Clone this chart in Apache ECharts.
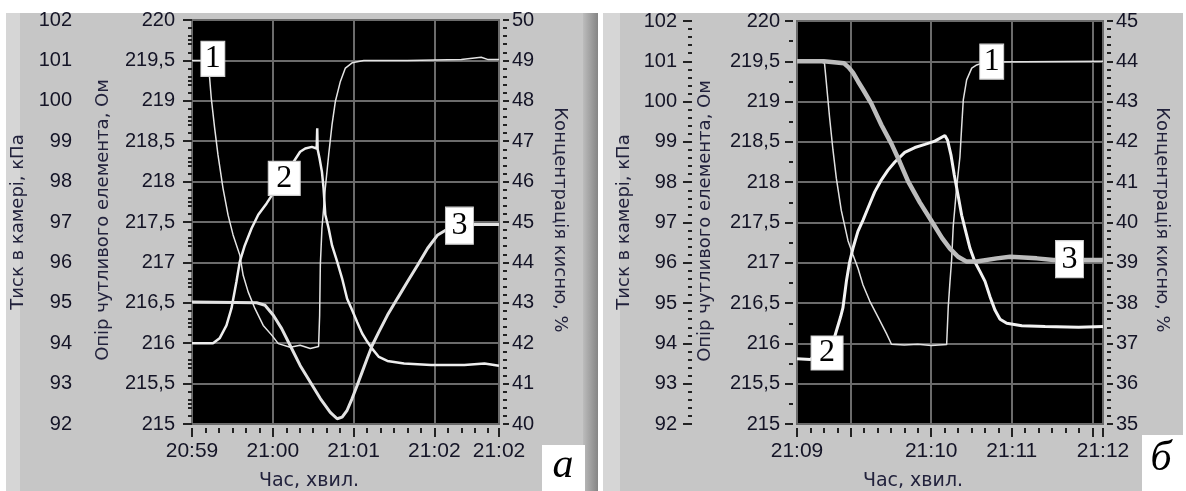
<!DOCTYPE html>
<html>
<head>
<meta charset="utf-8">
<script src="https://cdn.jsdelivr.net/npm/echarts@6/dist/echarts.min.js"></script>
<style>
  html, body { margin: 0; padding: 0; background: #fff; }
  #chart { width: 1186px; height: 491px; }
</style>
</head>
<body>
<div id="chart"></div>
<script>
// time origins (seconds of day) and visible time spans, seconds from origin
const aBase = 20 * 3600 + 59 * 60;        // 20:59:00
const bBase = 21 * 3600 + 8 * 60 + 40;    // 21:08:40
const aSpan = [0, 228];
const bSpan = [20, 248];

// panel а
const a1Time = [0, 10, 13, 14.3, 16.8, 19.3, 23.0, 26.8, 30.5, 35.5, 38.0, 41.7, 46.7, 52.9, 59.2, 64.1, 72.9, 80.3, 87.8, 94.0,
  94.8, 95.3, 96.5, 99.0, 101.5, 104.0, 106.5, 110.2, 113.9, 118.9, 127.6, 160, 200, 214.8, 220, 228];
const a1Oxygen = [49.0, 49.0, 48.6, 48.07, 47.33, 46.66, 45.84, 45.17, 44.68, 44.18, 43.68, 43.27, 42.86, 42.44, 42.2, 41.99, 41.9, 41.95, 41.87, 41.92,
  42.69, 43.93, 44.84, 45.84, 46.66, 47.41, 47.99, 48.48, 48.81, 48.94, 49.0, 49.0, 49.02, 49.08, 49.02, 49.02];
const a2Time = [0, 15.6, 20.5, 25.6, 29.3, 33.0, 35.5, 39.2, 44.2, 49.2, 55.4, 80.3, 84.1, 89.0, 92.6, 93.0, 93.3, 94.7, 96.5, 97.7,
  99.0, 101.5, 104.0, 107.8, 111.5, 115.2, 118.9, 122.7, 126.4, 130.1, 133.9, 138.8, 145.1, 157.5, 177.5, 202.3, 217.2, 228];
const a2Resist = [216.0, 216.0, 216.06, 216.22, 216.43, 216.76, 217.01, 217.21, 217.42, 217.59, 217.73, 218.37, 218.41, 218.43, 218.41, 218.66, 218.40, 218.29, 218.12, 217.92,
  217.59, 217.42, 217.21, 217.01, 216.8, 216.55, 216.41, 216.26, 216.12, 216.02, 215.93, 215.83, 215.78, 215.75, 215.73, 215.73, 215.75, 215.72];
const a3Time = [0, 48, 54.2, 60.4, 66.6, 72.8, 80.3, 87.8, 95.3, 102.7, 107.8, 111.5, 115.2, 118.9, 122.7, 126.4, 130.1, 133.9, 138.8, 145.1,
  152.6, 160, 167.5, 175, 182.5, 188.6, 209.8, 228];
const a3Pressure = [95.02, 95.0, 94.94, 94.69, 94.36, 93.95, 93.45, 93.04, 92.63, 92.29, 92.13, 92.17, 92.34, 92.63, 92.96, 93.29, 93.62, 93.95, 94.28, 94.69,
  95.11, 95.52, 95.93, 96.35, 96.68, 96.8, 96.94, 96.94];
const aTagTime = [15.5, 68.5, 198.6];
const aTagValue = [49.04, 218.04, 96.91];

// panel б
const b1Time = [20, 38, 40.5, 41.5, 44.3, 46.8, 49.3, 53.0, 58.0, 61.7, 65.5, 69.2, 74.2, 80.4, 86.6, 90.4, 100, 110, 120, 131.5,
  132.7, 133.9, 135.2, 136.4, 139.0, 141.4, 142.7, 143.9, 146.4, 150.2, 153.9, 160, 248];
const b1Oxygen = [44.0, 43.99, 43.95, 43.6, 42.6, 41.8, 41.1, 40.3, 39.55, 39.2, 38.86, 38.45, 38.05, 37.65, 37.25, 36.98, 36.96, 36.98, 36.95, 36.97,
  37.91, 38.49, 39.07, 39.9, 40.89, 41.63, 42.38, 43.04, 43.54, 43.83, 43.91, 43.98, 44.0];
const b2Time = [20, 30, 48, 52.5, 54.2, 56.8, 59.2, 61.7, 65.4, 69.2, 72.9, 77.9, 82.9, 87.8, 92.9, 100.3, 107.8, 115.3, 122.7, 130.2,
  132.2, 134.7, 137.2, 140.2, 142.7, 145.7, 148.9, 152.6, 156.4, 160.1, 163.8, 167.6, 171.3, 176.3, 187.5, 204.9, 229.8, 248];
const b2Resist = [215.81, 215.8, 216.08, 216.33, 216.44, 216.77, 217.01, 217.18, 217.39, 217.53, 217.68, 217.88, 218.03, 218.15, 218.25, 218.37, 218.43, 218.47, 218.51, 218.58,
  218.52, 218.34, 218.09, 217.82, 217.59, 217.39, 217.18, 217.01, 216.89, 216.77, 216.58, 216.41, 216.30, 216.25, 216.22, 216.21, 216.20, 216.21];
const b3Time = [20, 40, 55, 58.5, 61.7, 65.5, 69.2, 75.4, 82.9, 90.4, 96.6, 102.8, 111.5, 121.5, 128, 134, 140, 146.4, 153.9, 168.8,
  178.8, 198.7, 211.1, 248];
const b3Pressure = [101.0, 101.0, 100.95, 100.85, 100.72, 100.5, 100.3, 99.95, 99.42, 98.95, 98.5, 98.02, 97.5, 96.97, 96.62, 96.35, 96.15, 96.03, 96.03, 96.11,
  96.15, 96.11, 96.07, 96.07];
const bTagTime = [165.1, 42.4, 223];
const bTagValue = [43.99, 215.88, 96.09];

const tagNames = ['1', '2', '3'];
const tagSizes = [[24, 35], [32, 34], [28, 37]];

const tickCol = '#222222';
const gridCol = '#6b6b6b';
const textCol = '#141426';
const numFont = { color: textCol, fontFamily: '"Liberation Sans", Arial, sans-serif', fontSize: 20 };
const titleFont = '18px "DejaVu Sans", sans-serif';

function clock(base, v) {
  const m = Math.floor((base + v) / 60 + 1e-6);
  return Math.floor(m / 60) + ':' + String(m % 60).padStart(2, '0');
}

function timeLabel(base, span) {
  return function (v) {
    const edge = Math.abs(v - span[0]) < 1e-6 || Math.abs(v - span[1]) < 1e-6;
    if (!edge && (v - span[0] < 45 || span[1] - v < 45)) return '';
    return clock(base, v);
  };
}

function xMain(gi, base, span, fixed) {
  const ax = {
    type: 'value', gridIndex: gi, position: 'bottom', offset: 4, min: span[0], max: span[1],
    axisLine: { show: false },
    axisTick: { show: true, length: 9, lineStyle: { color: tickCol, width: 2 } },
    axisLabel: Object.assign({ margin: 13, showMinLabel: true, showMaxLabel: true, formatter: timeLabel(base, span) }, numFont, { fontSize: 21 }),
    splitLine: { show: true, lineStyle: { color: gridCol, width: 2 } }
  };
  if (fixed) ax.interval = 60;
  else { ax.minInterval = 60; ax.maxInterval = 60; ax.splitNumber = 4; }
  return ax;
}

function xSmall(gi, span) {
  return {
    type: 'value', gridIndex: gi, position: 'bottom', offset: 4, min: span[0], max: span[1], interval: 10,
    axisLine: { show: false }, axisLabel: { show: false }, splitLine: { show: false },
    axisTick: { show: true, length: 5, lineStyle: { color: tickCol, width: 2 } }
  };
}

function yAxis(gi, pos, offset, min, max, interval, tickLen, minorSplit, margin, split, fmt) {
  return {
    type: 'value', gridIndex: gi, position: pos, offset: offset, min: min, max: max, interval: interval,
    axisLine: { show: false },
    axisTick: { show: true, length: tickLen, lineStyle: { color: tickCol, width: 2 } },
    minorTick: { show: true, splitNumber: minorSplit, length: 4, lineStyle: { color: tickCol, width: 2 } },
    axisLabel: Object.assign({ margin: margin, formatter: fmt }, numFont),
    splitLine: { show: split, lineStyle: { color: gridCol, width: 2 } },
    minorSplitLine: { show: false }
  };
}

const comma = v => String(v).replace('.', ',');
const plain = v => String(v);

function line(xi, yi, ts, vs, color, width, tagIdx, tagT, tagV) {
  const s = {
    type: 'line', xAxisIndex: xi, yAxisIndex: yi, data: ts.map((t, i) => [t, vs[i]]),
    showSymbol: false, symbol: 'none', silent: true,
    lineStyle: { color: color, width: width }
  };
  s.markPoint = {
    symbol: 'rect', silent: true,
    data: [{ coord: [tagT[tagIdx], tagV[tagIdx]], symbolSize: tagSizes[tagIdx] }],
    itemStyle: { color: '#ffffff', borderColor: '#d0d0d0', borderWidth: 1 },
    label: { show: true, formatter: tagNames[tagIdx], color: '#000', fontFamily: '"Liberation Serif", serif', fontSize: 32 }
  };
  return s;
}

function vText(x, y, text, rot) {
  return { type: 'text', x: x, y: y, rotation: rot, z: 50,
    style: { text: text, font: titleFont, fill: '#22223c', align: 'center', verticalAlign: 'middle', textAlign: 'center', textVerticalAlign: 'middle' } };
}

const chart = echarts.init(document.getElementById('chart'), null, { renderer: 'canvas' });

chart.setOption({
  animation: false,
  backgroundColor: '#ffffff',
  grid: [
    { left: 192, top: 20, width: 307, height: 404, show: true, backgroundColor: '#000', borderColor: gridCol, borderWidth: 2, containLabel: false, outerBoundsMode: 'none' },
    { left: 797, top: 21, width: 306, height: 403, show: true, backgroundColor: '#000', borderColor: gridCol, borderWidth: 2, containLabel: false, outerBoundsMode: 'none' }
  ],
  xAxis: [
    xMain(0, aBase, aSpan, true), xSmall(0, aSpan),
    xMain(1, bBase, bSpan, false), xSmall(1, bSpan)
  ],
  yAxis: [
    yAxis(0, 'left', 4, 215, 220, 0.5, 8, 2, 13, true, comma),
    yAxis(0, 'left', 105, 92, 102, 1, 9, 5, 15, false, plain),
    yAxis(0, 'right', 4, 40, 50, 1, 6, 5, 9, false, plain),
    yAxis(1, 'left', 4, 215, 220, 0.5, 8, 2, 13, true, comma),
    yAxis(1, 'left', 105, 92, 102, 1, 9, 5, 15, false, plain),
    yAxis(1, 'right', 4, 35, 45, 1, 6, 5, 9, false, plain)
  ],
  series: [
    line(0, 2, a1Time, a1Oxygen, '#e4e4e4', 1.5, 0, aTagTime, aTagValue),
    line(0, 0, a2Time, a2Resist, '#eeeeee', 2.5, 1, aTagTime, aTagValue),
    line(0, 1, a3Time, a3Pressure, '#e2e2e2', 3, 2, aTagTime, aTagValue),
    line(2, 5, b1Time, b1Oxygen, '#e0e0e0', 1.5, 0, bTagTime, bTagValue),
    line(2, 3, b2Time, b2Resist, '#f2f2f2', 3, 1, bTagTime, bTagValue),
    line(2, 4, b3Time, b3Pressure, '#bcbcbc', 4.5, 2, bTagTime, bTagValue)
  ],
  graphic: [
    { type: 'rect', z: -100, shape: { x: 6, y: 13, width: 592, height: 478 }, style: { fill: '#c6c6c6' } },
    { type: 'rect', z: -99, shape: { x: 6, y: 13, width: 14, height: 478 }, style: { fill: '#d6d6d6' } },
    { type: 'rect', z: -99, shape: { x: 583, y: 13, width: 15, height: 478 },
      style: { fill: new echarts.graphic.LinearGradient(0, 0, 1, 0, [{ offset: 0, color: '#bcbcbc' }, { offset: 1, color: '#858585' }]) } },
    { type: 'rect', z: -100, shape: { x: 603, y: 13, width: 580, height: 478 }, style: { fill: '#c6c6c6' } },
    { type: 'rect', z: -99, shape: { x: 603, y: 13, width: 17, height: 478 }, style: { fill: '#d6d6d6' } },
    vText(18, 222, 'Тиск в камері, кПа', Math.PI / 2),
    vText(103, 220, 'Опір чутливого елемента, Ом', Math.PI / 2),
    vText(560, 220, 'Концентрація кисню, %', -Math.PI / 2),
    vText(624, 222, 'Тиск в камері, кПа', Math.PI / 2),
    vText(705, 221, 'Опір чутливого елемента, Ом', Math.PI / 2),
    vText(1162, 220, 'Концентрація кисню, %', -Math.PI / 2),
    { type: 'text', x: 309, y: 481, z: 50, style: { text: 'Час, хвил.', font: '19px "DejaVu Sans", sans-serif', fill: '#22223c', align: 'center', verticalAlign: 'middle', textAlign: 'center', textVerticalAlign: 'middle' } },
    { type: 'text', x: 913, y: 481, z: 50, style: { text: 'Час, хвил.', font: '19px "DejaVu Sans", sans-serif', fill: '#22223c', align: 'center', verticalAlign: 'middle', textAlign: 'center', textVerticalAlign: 'middle' } },
    { type: 'rect', z: 40, shape: { x: 542, y: 445, width: 43, height: 46 }, style: { fill: '#ffffff' } },
    { type: 'rect', z: 40, shape: { x: 1142, y: 435, width: 41, height: 56 }, style: { fill: '#ffffff' } },
    { type: 'text', x: 563, y: 466, z: 50, style: { text: 'а', font: 'italic 42px "Liberation Serif", serif', fill: '#000', align: 'center', verticalAlign: 'middle', textAlign: 'center', textVerticalAlign: 'middle' } },
    { type: 'text', x: 1161, y: 459, z: 50, style: { text: 'б', font: 'italic 42px "Liberation Serif", serif', fill: '#000', align: 'center', verticalAlign: 'middle', textAlign: 'center', textVerticalAlign: 'middle' } }
  ]
});
</script>
</body>
</html>
